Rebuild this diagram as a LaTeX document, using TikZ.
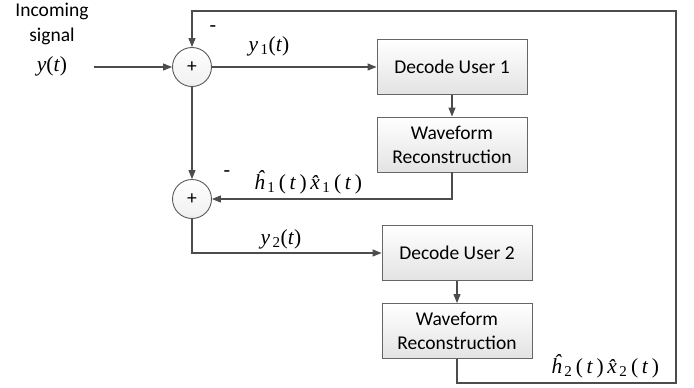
\documentclass[tikz,border=0pt]{standalone}
\usepackage{fontspec}
\setmainfont{Carlito}
\newfontfamily\tms{Liberation Serif}
\usetikzlibrary{arrows.meta}
% signal labels in the Times look of the reference
\newcommand{\sgl}[2]{{\tms\itshape #1}\textsubscript{\tms #2}{\tms(\itshape t\/\upshape)}}
\newcommand{\est}[2]{{\tms\itshape \^{#1}}\textsubscript{\tms\,#2}{\tms\,(\itshape\,t\/\upshape\,)}}
\tikzset{
  blk/.style={draw=black!60,line width=0.9pt,minimum width=150pt,minimum height=55pt,
    align=center,top color=white,bottom color=black!11,font=\fontsize{19.5}{24}\selectfont},
  sumnode/.style={draw=black!65,line width=0.9pt,circle,minimum size=39pt,inner sep=0pt,
    top color=white,bottom color=black!6,font=\fontsize{19.5}{24}\selectfont},
  wire/.style={draw=black!70,line width=1.1pt},
  arr/.style={wire,-{Triangle[length=9pt,width=7pt]}},
  lbl/.style={font=\fontsize{21.5}{25}\selectfont}
}
\begin{document}
\begin{tikzpicture}[x=1pt,y=-1pt]
            \useasboundingbox (0,0) rectangle (694,388);
            \draw (192,67) node[sumnode] (sum1) {+};
            \draw (192,199) node[sumnode] (sum2) {+};
            \draw (452,67) node[blk] (dec1) {Decode User 1};
            \draw (452,144.5) node[blk] (wav1) {Waveform\\Reconstruction};
            \draw (457,253) node[blk] (dec2) {Decode User 2};
            \draw (457,331) node[blk] (wav2) {Waveform\\Reconstruction};
            \draw (52,24) node[align=center,font=\fontsize{19.5}{25}\selectfont] (insig) {Incoming\\signal};
            \draw (52,66) node[lbl] (yin) {{\tms\itshape y}{\tms(\itshape t\/\upshape)}};
            \draw (269,46) node[lbl] (y1) {\sgl{y}{\,1}};
            \draw (281,239) node[lbl] (y2) {\sgl{y}{\,2}};
            \draw (308,182) node[lbl] (e1) {\est{h}{1}\,\est{x}{1}};
            \draw (605,366) node[lbl] (e2) {\est{h}{2}\,\est{x}{2}};
            \draw (213,29) node[lbl] (m1) {-};
            \draw (227,174) node[lbl] (m2) {-};
            \coordinate (inp) at (94,67);
            \coordinate (fbr) at (676,383);
            \coordinate (fbt) at (676,11);

            \draw[arr] (inp) -- (sum1);
            \draw[arr] (sum1) -- (dec1);
            \draw[arr] (dec1) -- (wav1);
            \draw[arr] (wav1.south) |- (sum2.east);
            \draw[arr] (sum1) -- (sum2);
            \draw[arr] (sum2.south) |- (dec2.west);
            \draw[arr] (dec2) -- (wav2);
            \draw[arr] (wav2.south) |- (fbr) -- (fbt) -| (sum1.north);
        \end{tikzpicture}
\end{document}
